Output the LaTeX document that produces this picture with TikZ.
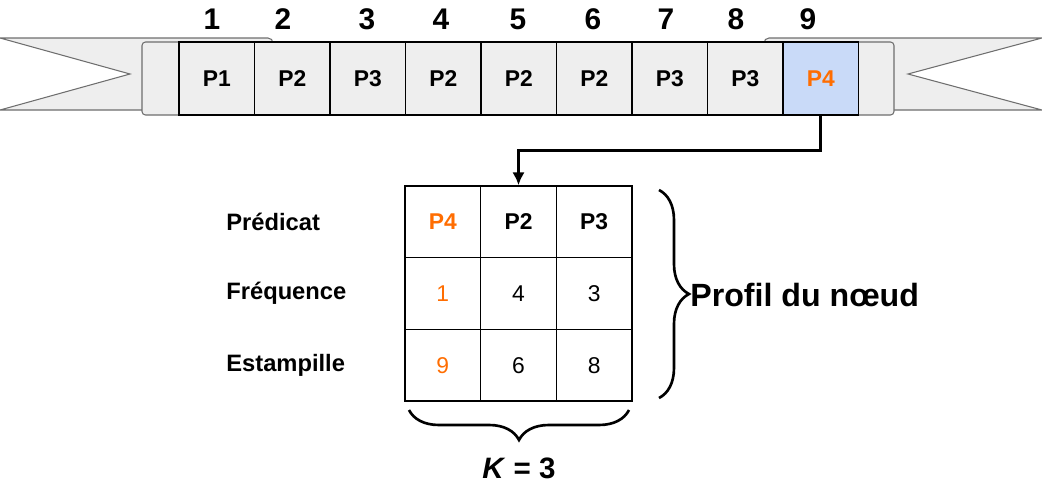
\documentclass[tikz,border=0pt]{standalone}
\usepackage{fontspec}
\setmainfont{Liberation Sans}
\usetikzlibrary{arrows.meta,decorations.pathreplacing}
\definecolor{ribbongray}{HTML}{EEEEEE}
\definecolor{ribbonline}{HTML}{6E6E6E}
\definecolor{cellblue}{HTML}{C9DAF8}
\definecolor{hotorange}{HTML}{FF6D01}

\begin{document}
\begin{tikzpicture}[x=0.02cm,y=-0.02cm,
	ribbon/.style={draw=ribbonline,fill=ribbongray,line width=0.6pt},
	slot/.style={rectangle,draw,line width=0.8pt,fill=ribbongray,minimum width=1.51cm,minimum height=1.46cm,inner sep=0pt,font=\fontsize{13}{15}\selectfont\bfseries},
	tab/.style={rectangle,draw,line width=0.8pt,minimum width=1.514cm,minimum height=1.434cm,inner sep=0pt,font=\fontsize{13}{15}\selectfont},
	num/.style={font=\fontsize{17}{20}\selectfont\bfseries},
	rowlab/.style={anchor=west,inner sep=0pt,font=\fontsize{13.5}{16}\selectfont\bfseries},
	curly/.style={decorate,line width=1.5pt,decoration={brace,amplitude=0.6cm}}]
		\useasboundingbox (0,0) rectangle (1042,497);
%		\draw[help lines,step=100] (0,0) grid (1042,497);
		% ribbon ends and band
		\draw[ribbon] (0,38) -- (268,38) to[out=0,in=90] (273,43) -- (273,110) -- (0,110) -- (130,74) -- cycle;
		\draw[ribbon] (1042,38) -- (769,38) to[out=180,in=90] (764,43) -- (764,110) -- (1042,110) -- (908,74) -- cycle;
		\draw[ribbon,rounded corners=2pt] (142,42) rectangle (894,115);

		\node (c1) at (216.75,78.5) [slot] {P1};
		\node (c2) at (292.25,78.5) [slot] {P2};
		\node (c3) at (367.75,78.5) [slot] {P3};
		\node (c4) at (443.25,78.5) [slot] {P2};
		\node (c5) at (518.75,78.5) [slot] {P2};
		\node (c6) at (594.25,78.5) [slot] {P2};
		\node (c7) at (669.75,78.5) [slot] {P3};
		\node (c8) at (745.25,78.5) [slot] {P3};
		\node (c9) at (820.75,78.5) [slot,fill=cellblue,text=hotorange] {P4};

		\node (n1) at (212,19) [num] {1};
		\node (n2) at (283,19) [num] {2};
		\node (n3) at (367,19) [num] {3};
		\node (n4) at (441,19) [num] {4};
		\node (n5) at (518,19) [num] {5};
		\node (n6) at (593,19) [num] {6};
		\node (n7) at (666,19) [num] {7};
		\node (n8) at (736,19) [num] {8};
		\node (n9) at (808,19) [num] {9};

		% profile table
		\node (t11) at (442.8,221.8) [tab,font=\fontsize{13}{15}\selectfont\bfseries,text=hotorange] {P4};
		\node (t12) at (518.5,221.8) [tab,font=\fontsize{13}{15}\selectfont\bfseries] {P2};
		\node (t13) at (594.2,221.8) [tab,font=\fontsize{13}{15}\selectfont\bfseries] {P3};
		\node (t21) at (442.8,293.5) [tab,text=hotorange] {1};
		\node (t22) at (518.5,293.5) [tab] {4};
		\node (t23) at (594.2,293.5) [tab] {3};
		\node (t31) at (442.8,365.2) [tab,text=hotorange] {9};
		\node (t32) at (518.5,365.2) [tab] {6};
		\node (t33) at (594.2,365.2) [tab] {8};

		\node (pred) at (226,221.8) [rowlab] {Prédicat};
		\node (freq) at (226,293.5) [rowlab] {Fréquence};
		\node (stamp) at (226,365.2) [rowlab] {Estampille};

		\draw[line width=1.7pt,-{Latex[length=2.6mm,width=2.5mm]}] (c9.south) -- ++(0,35) -| (t12.north);

		\path (659,190) coordinate (bracetop);
		\path (659,398) coordinate (bracebot);
		\path (629,410) coordinate (kright);
		\path (409,410) coordinate (kleft);
		\draw[curly] (bracetop) -- (bracebot);
		\draw[curly] (kright) -- (kleft);
		\node (profil) at (690,295) [anchor=west,inner sep=0pt,font=\fontsize{18.3}{22}\selectfont\bfseries] {Profil du nœud};
		\node (kval) at (519,468) [font=\fontsize{16.8}{20}\selectfont\bfseries] {\textit{K} = 3};
\end{tikzpicture}
\end{document}
